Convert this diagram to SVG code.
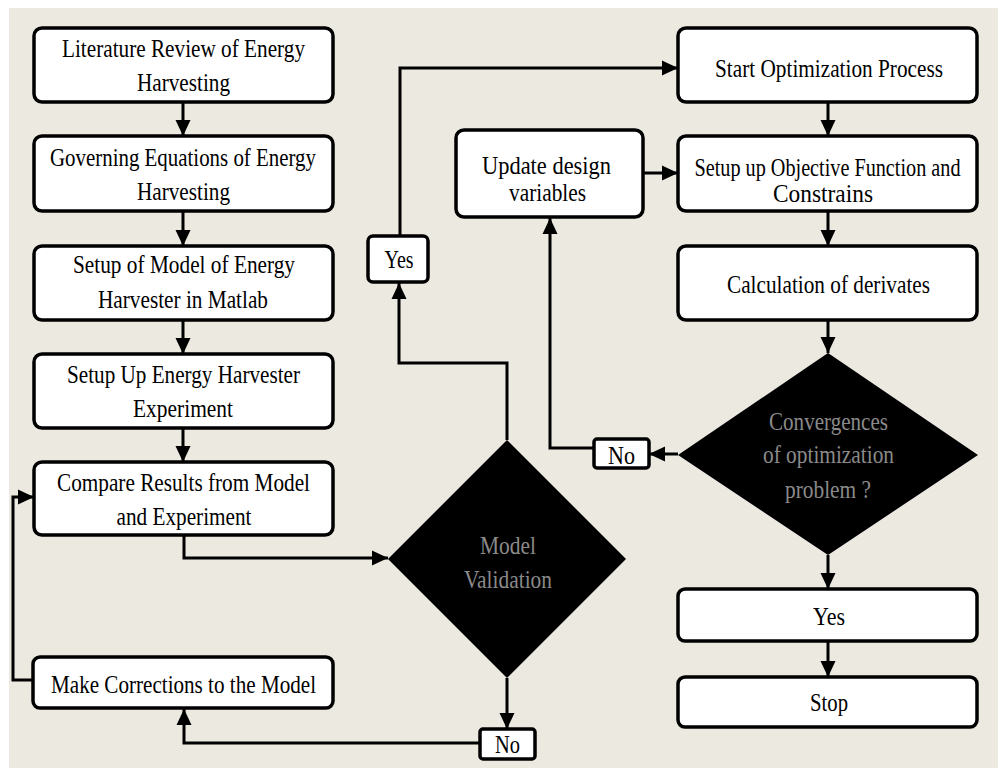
<svg xmlns="http://www.w3.org/2000/svg" width="998" height="770" viewBox="0 0 998 770">
  <defs>
    <marker id="arrow" markerUnits="userSpaceOnUse" markerWidth="17" markerHeight="17" refX="16" refY="8.5" orient="auto">
      <path d="M0,1 L16,8.5 L0,16 z" fill="#000"/>
    </marker>
    <style>
      .box { fill: #fff; stroke: #000; stroke-width: 3.5; }
      .dia { fill: #000; stroke: none; }
      .t { font-family: "Liberation Serif", "Times New Roman", serif; font-size: 25px; fill: #000; text-anchor: middle; }
      .td { fill: #8a8a8a; }
      .conn path { fill: none; stroke: #000; stroke-width: 3; marker-end: url(#arrow); }
    </style>
  </defs>

  <!-- page background -->
  <rect x="0" y="0" width="998" height="770" fill="#fff"/>
  <rect x="9" y="8" width="989" height="760" fill="#ECE9E1"/>

  <!-- connectors -->
  <g id="connectors" class="conn">
    <path d="M183,103 V136"/>
    <path d="M183,212 V246"/>
    <path d="M183,321 V354"/>
    <path d="M183,429 V462"/>
    <path d="M184,536 V558 H388"/>
    <path d="M507,678 V729"/>
    <path d="M480,743 H184 V709"/>
    <path d="M33,680 H13 V497 H34"/>
    <path d="M507,440 V363 H399 V283"/>
    <path d="M400,236 V68 H678"/>
    <path d="M828,103 V136"/>
    <path d="M643,173 H678"/>
    <path d="M828,212 V246"/>
    <path d="M828,321 V353"/>
    <path d="M678,454 H649"/>
    <path d="M594,448 H550 V218"/>
    <path d="M828,555 V589"/>
    <path d="M828,642 V677"/>
  </g>

  <!-- left column -->
  <g id="literature-review">
    <rect class="box" x="34" y="28" width="299" height="74" rx="8"/>
    <text class="t" x="183.5" y="57" textLength="243" lengthAdjust="spacingAndGlyphs">Literature Review of Energy</text>
    <text class="t" x="183.5" y="91" textLength="93" lengthAdjust="spacingAndGlyphs">Harvesting</text>
  </g>
  <g id="governing-equations">
    <rect class="box" x="34" y="136" width="299" height="75" rx="8"/>
    <text class="t" x="183" y="166" textLength="266" lengthAdjust="spacingAndGlyphs">Governing Equations of Energy</text>
    <text class="t" x="183.5" y="200" textLength="93" lengthAdjust="spacingAndGlyphs">Harvesting</text>
  </g>
  <g id="model-setup">
    <rect class="box" x="34" y="246" width="299" height="74" rx="8"/>
    <text class="t" x="184" y="273" textLength="222" lengthAdjust="spacingAndGlyphs">Setup of Model of Energy</text>
    <text class="t" x="183" y="308" textLength="170" lengthAdjust="spacingAndGlyphs">Harvester in Matlab</text>
  </g>
  <g id="experiment-setup">
    <rect class="box" x="34" y="354" width="299" height="74" rx="8"/>
    <text class="t" x="183.5" y="383" textLength="233" lengthAdjust="spacingAndGlyphs">Setup Up Energy Harvester</text>
    <text class="t" x="183" y="417" textLength="100" lengthAdjust="spacingAndGlyphs">Experiment</text>
  </g>
  <g id="compare-results">
    <rect class="box" x="34" y="462" width="299" height="73" rx="8"/>
    <text class="t" x="183.5" y="491" textLength="253" lengthAdjust="spacingAndGlyphs">Compare Results from Model</text>
    <text class="t" x="184" y="525" textLength="135" lengthAdjust="spacingAndGlyphs">and Experiment</text>
  </g>
  <g id="make-corrections">
    <rect class="box" x="33" y="657" width="300" height="51" rx="7"/>
    <text class="t" x="183.5" y="693" textLength="265" lengthAdjust="spacingAndGlyphs">Make Corrections to the Model</text>
  </g>

  <!-- validation decision -->
  <g id="model-validation">
    <polygon class="dia" points="507,440 626,559 507,678 388,559"/>
    <text class="t td" x="508" y="554" textLength="56" lengthAdjust="spacingAndGlyphs">Model</text>
    <text class="t td" x="508" y="588" textLength="88" lengthAdjust="spacingAndGlyphs">Validation</text>
  </g>
  <g id="validation-yes">
    <rect class="box" x="368" y="236" width="60" height="46" rx="5"/>
    <text class="t" x="399" y="268" textLength="29" lengthAdjust="spacingAndGlyphs">Yes</text>
  </g>
  <g id="validation-no">
    <rect class="box" x="480" y="729" width="55" height="30" rx="3"/>
    <text class="t" x="507.5" y="753" textLength="25" lengthAdjust="spacingAndGlyphs">No</text>
  </g>

  <!-- optimization column -->
  <g id="start-optimization">
    <rect class="box" x="678" y="28" width="299" height="74" rx="8"/>
    <text class="t" x="829" y="77" textLength="228" lengthAdjust="spacingAndGlyphs">Start Optimization Process</text>
  </g>
  <g id="objective-function">
    <rect class="box" x="678" y="136" width="299" height="75" rx="8"/>
    <text class="t" x="827.5" y="176" textLength="266" lengthAdjust="spacingAndGlyphs">Setup up Objective Function and</text>
    <text class="t" x="823" y="202" textLength="100" lengthAdjust="spacingAndGlyphs">Constrains</text>
  </g>
  <g id="update-variables">
    <rect class="box" x="456" y="130" width="187" height="87" rx="8"/>
    <text class="t" x="546.5" y="174" textLength="129" lengthAdjust="spacingAndGlyphs">Update design</text>
    <text class="t" x="547.5" y="201" textLength="77" lengthAdjust="spacingAndGlyphs">variables</text>
  </g>
  <g id="derivatives">
    <rect class="box" x="678" y="246" width="299" height="74" rx="8"/>
    <text class="t" x="828.5" y="293" textLength="203" lengthAdjust="spacingAndGlyphs">Calculation of derivates</text>
  </g>
  <g id="convergence">
    <polygon class="dia" points="828,353 978,455 828,555 678,455"/>
    <text class="t td" x="828.5" y="430" textLength="119" lengthAdjust="spacingAndGlyphs">Convergences</text>
    <text class="t td" x="828.5" y="463" textLength="131" lengthAdjust="spacingAndGlyphs">of optimization</text>
    <text class="t td" x="828" y="498" textLength="86" lengthAdjust="spacingAndGlyphs">problem ?</text>
  </g>
  <g id="convergence-no">
    <rect class="box" x="594" y="439" width="55" height="29" rx="3"/>
    <text class="t" x="621.5" y="464" textLength="27" lengthAdjust="spacingAndGlyphs">No</text>
  </g>
  <g id="convergence-yes">
    <rect class="box" x="678" y="589" width="299" height="52" rx="7"/>
    <text class="t" x="829" y="625" textLength="32" lengthAdjust="spacingAndGlyphs">Yes</text>
  </g>
  <g id="stop">
    <rect class="box" x="678" y="677" width="299" height="50" rx="7"/>
    <text class="t" x="829" y="711" textLength="38" lengthAdjust="spacingAndGlyphs">Stop</text>
  </g>
</svg>
